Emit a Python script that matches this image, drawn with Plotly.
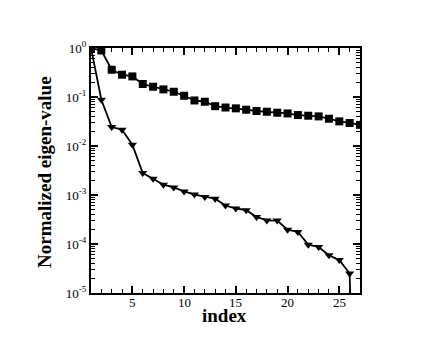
import plotly.graph_objects as go

# eigen-value index
index = list(range(1, 28))

# normalized eigen-values, squares series
sq_vals = [1.0, 0.89, 0.36, 0.285, 0.263, 0.184, 0.162, 0.143, 0.128, 0.106,
           0.085, 0.080, 0.065, 0.061, 0.0586, 0.055, 0.0518, 0.050, 0.0478,
           0.0462, 0.0428, 0.0415, 0.0402, 0.036, 0.0318, 0.0295, 0.027]

# normalized eigen-values, triangles series (last one falls off the axis)
tri_vals = [1.0, 0.088, 0.0244, 0.0215, 0.0106, 0.00281, 0.00215, 0.00162,
            0.00143, 0.00118, 0.00102, 0.00091, 0.00084, 0.00061, 0.00053,
            0.00049, 0.000357, 0.000303, 0.0003, 0.000196, 0.000176, 9.7e-5,
            8.7e-5, 5.9e-5, 4.7e-5, 2.5e-5, 1e-12]

x_ticks = [5, 10, 15, 20, 25]
y_ticks = [1, 1e-1, 1e-2, 1e-3, 1e-4, 1e-5]
y_ticktext = ["10<sup>0</sup>", "10<sup>-1</sup>", "10<sup>-2</sup>",
              "10<sup>-3</sup>", "10<sup>-4</sup>", "10<sup>-5</sup>"]

serif = "Liberation Serif"

fig = go.Figure()
fig.add_trace(go.Scatter(x=index, y=sq_vals, mode="lines+markers",
                         line=dict(color="black", width=1.8),
                         marker=dict(symbol="square", size=8, color="black")))
fig.add_trace(go.Scatter(x=index, y=tri_vals, mode="lines+markers",
                         line=dict(color="black", width=1.8),
                         marker=dict(symbol="triangle-down", size=8, color="black")))

# minor tick positions on the log axis
minor_y = [m * 10 ** e for e in range(-5, 0) for m in range(2, 10)]

# x tick labels sit tight under the axis, so draw them as annotations
annots = [dict(text=str(v), x=v, xref="x", y=0, yref="paper", yanchor="top",
               xanchor="center", yshift=0, showarrow=False,
               font=dict(family=serif, size=13)) for v in x_ticks]

annots += [
    dict(text="<b>Normalized eigen-value</b>", textangle=-90, xref="paper",
         yref="paper", x=-0.171, y=0.494, xanchor="center", yanchor="middle",
         showarrow=False, font=dict(family=serif, size=19)),
    dict(text="<b>index</b>", xref="paper", yref="paper", x=0.498, y=-0.04,
         xanchor="center", yanchor="top", showarrow=False,
         font=dict(family=serif, size=19)),
]

fig.update_layout(
    width=440, height=340,
    margin=dict(l=83, r=88, t=40, b=55),
    paper_bgcolor="white", plot_bgcolor="white",
    showlegend=False,
    font=dict(family=serif, size=13, color="black"),
    xaxis=dict(range=[1, 27], tickvals=x_ticks, showticklabels=False,
               ticks="inside", ticklen=7, tickwidth=1.5, tickcolor="black",
               showgrid=False, zeroline=False, showline=True, linecolor="black",
               linewidth=2, mirror="ticks",
               minor=dict(tickvals=[i for i in index if i not in x_ticks],
                          ticks="inside", ticklen=4, tickcolor="black", tickwidth=1)),
    yaxis=dict(type="log", range=[-5, 0], tickvals=y_ticks, ticktext=y_ticktext,
               ticks="inside", ticklen=7, tickwidth=1.5, tickcolor="black",
               showgrid=False, zeroline=False, showline=True, linecolor="black",
               linewidth=2, mirror="ticks", tickfont=dict(family=serif, size=13),
               minor=dict(tickvals=minor_y, ticks="inside", ticklen=4,
                          tickcolor="black", tickwidth=1)),
    annotations=annots,
)

fig.write_html("out.html")
